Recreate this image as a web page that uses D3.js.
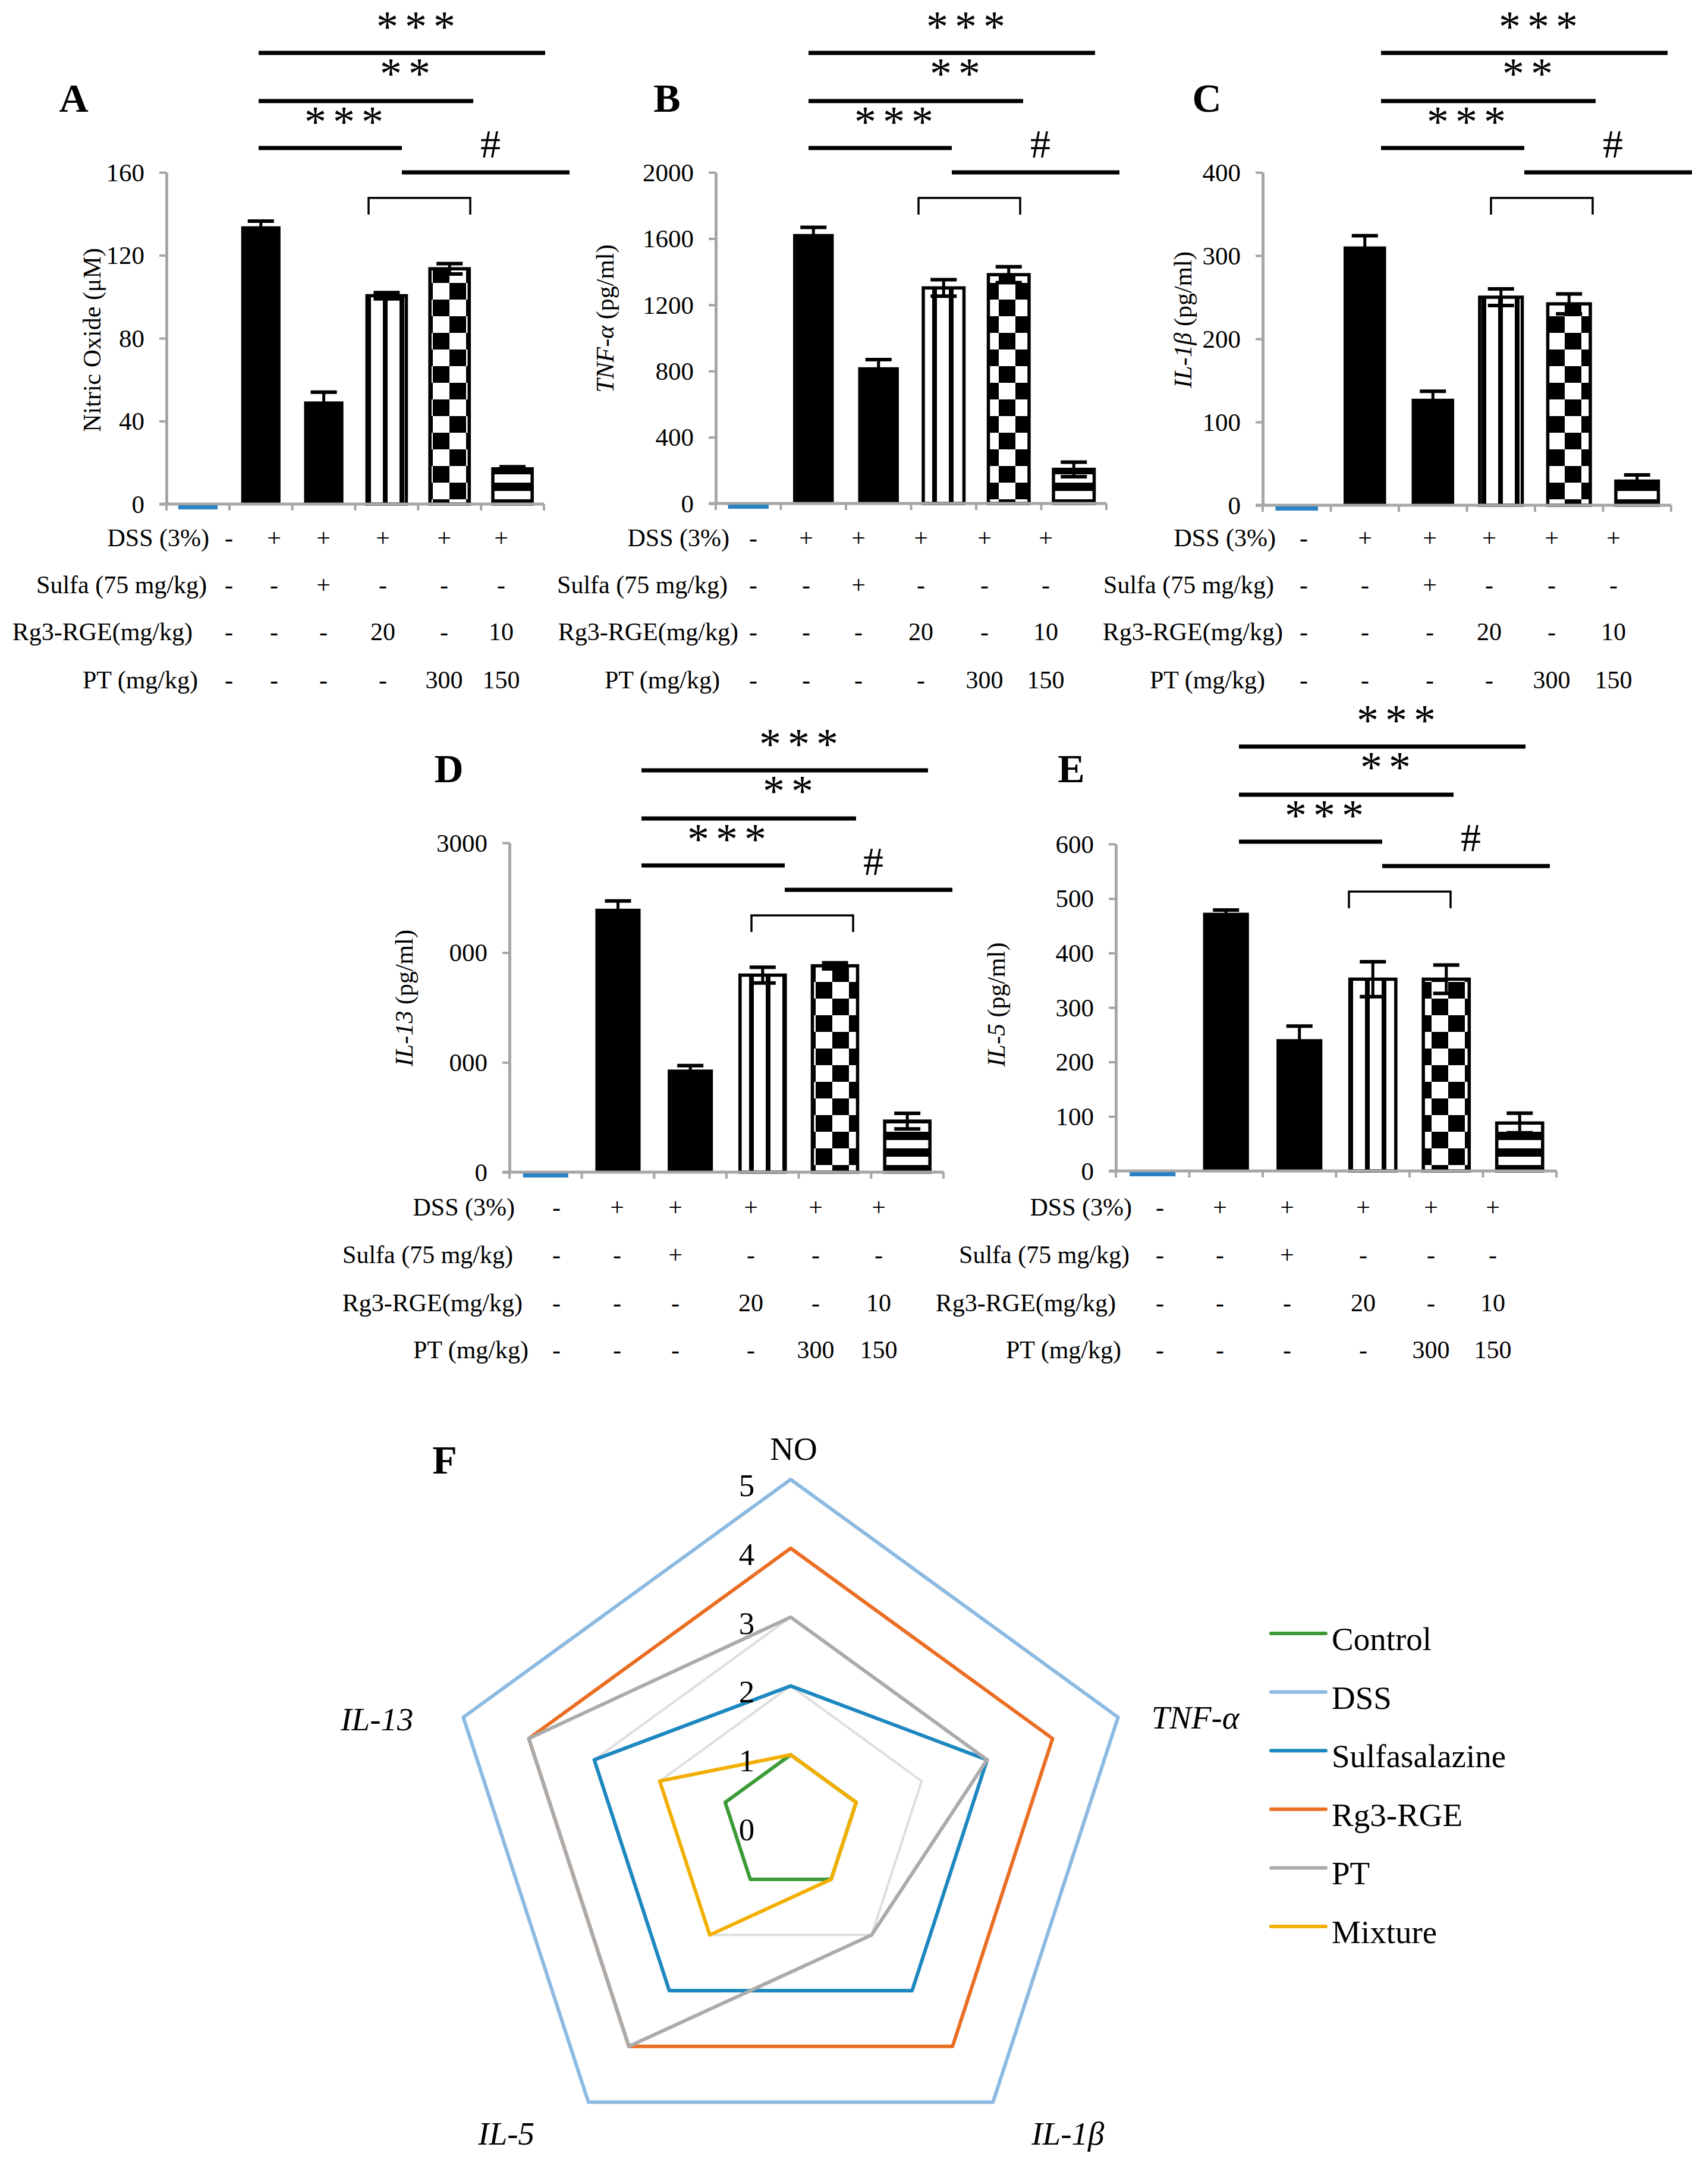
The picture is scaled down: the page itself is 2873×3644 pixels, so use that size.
<!DOCTYPE html>
<html><head><meta charset="utf-8">
<script src="https://cdn.jsdelivr.net/npm/d3@7"></script>
<style>
body{margin:0;background:#fff}
svg text{font-family:"Liberation Serif","Times New Roman",serif;fill:#000}
</style>
</head><body>
<svg id="c" width="2873" height="3644" xmlns="http://www.w3.org/2000/svg"></svg>
<script>
// ---------------- DATA ----------------
const groups = ["Control","DSS","Sulfa","Rg3-RGE","PT","Mixture"];

const noMean   = [0, 134, 49.5, 100.5, 113.5, 17];
const noErr    = [0, 2.5, 4.5, 1.5, 2.5, 1];
const tnfMean  = [0, 1628, 823, 1302, 1382, 206];
const tnfErr   = [0, 40, 46, 50, 48, 44];
const il1bMean = [0, 311, 128, 250, 242, 29];
const il1bErr  = [0, 13, 9, 10, 12, 7.5];
const il13Mean = [0, 2400, 935, 1795, 1880, 465];
const il13Err  = [0, 71, 36, 72, 28, 71];
const il5Mean  = [0, 474, 242, 352, 352, 88];
const il5Err   = [0, 5, 24, 32, 26, 18];

const noTicks   = [0, 40, 80, 120, 160];
const tnfTicks  = [0, 400, 800, 1200, 1600, 2000];
const il1bTicks = [0, 100, 200, 300, 400];
const il13Ticks = [0, 1000, 2000, 3000];
const il13TickLabels = ["0", "000", "000", "3000"];
const il5Ticks  = [0, 100, 200, 300, 400, 500, 600];

const rowLabels = ["DSS (3%)", "Sulfa (75 mg/kg)", "Rg3-RGE(mg/kg)", "PT (mg/kg)"];
const rowDSS   = ["-", "+", "+", "+", "+", "+"];
const rowSulfa = ["-", "-", "+", "-", "-", "-"];
const rowRg3   = ["-", "-", "-", "20", "-", "10"];
const rowPT    = ["-", "-", "-", "-", "300", "150"];

const sigTop = "***", sigMid = "**", sigLow = "***", sigHash = "#";

const radarAxes    = ["NO", "TNF-α", "IL-1β", "IL-5", "IL-13"];
const radarTicks   = [0, 1, 2, 3, 4, 5];
const radarSeries  = ["Control", "DSS", "Sulfasalazine", "Rg3-RGE", "PT", "Mixture"];
const radarControl = [1, 1, 1, 1, 1];
const radarDSS     = [5, 5, 5, 5, 5];
const radarSulfa   = [2, 3, 3, 3, 3];
const radarRg3     = [4, 4, 4, 4, 4];
const radarPT      = [3, 3, 2, 4, 4];
const radarMixture = [1, 1, 1, 2, 2];

// ---------------- STYLE / LAYOUT ----------------
const barFill = ["zero", "solid", "solid", "url(#vstripe)", "url(#checker)", "url(#hstripe)"];
const radarColors = ["#3c9a37", "#8dbae1", "#1d87c0", "#ea6e24", "#ababab", "#f2af00"];
const AXIS = "#a6a6a6";

const panels = [
  {letter:"A", mean:noMean, err:noErr, ticks:noTicks, tickLabels:null,
   ax:280, axEnd:915, y0:848, yTop:290, letterPos:[124,166],
   ylab:[["Nitric Oxide (μM)",false]], ylabPos:[155,572],
   sigL:435, sigT:89, labRight:[352,348,324,333],
   cols:[385,461,544,644,747,843], rowY:[905,984,1063,1144]},
  {letter:"B", mean:tnfMean, err:tnfErr, ticks:tnfTicks, tickLabels:null,
   ax:1204, axEnd:1861, y0:847, yTop:290, letterPos:[1122,166],
   ylab:[["TNF-α",true],[" (pg/ml)",false]], ylabPos:[1018,536],
   sigL:1360, sigT:89, labRight:[1227,1224,1242,1211],
   cols:[1267,1356,1444,1549,1656,1759], rowY:[905,984,1063,1144]},
  {letter:"C", mean:il1bMean, err:il1bErr, ticks:il1bTicks, tickLabels:null,
   ax:2124, axEnd:2811, y0:850, yTop:290, letterPos:[2030,166],
   ylab:[["IL-1β",true],[" (pg/ml)",false]], ylabPos:[1990,538],
   sigL:2323, sigT:89, labRight:[2146,2143,2158,2128],
   cols:[2193,2296,2405,2505,2610,2714], rowY:[905,984,1063,1144]},
  {letter:"D", mean:il13Mean, err:il13Err, ticks:il13Ticks, tickLabels:il13TickLabels,
   ax:857, axEnd:1587, y0:1972, yTop:1418, letterPos:[755,1294],
   ylab:[["IL-13",true],[" (pg/ml)",false]], ylabPos:[680,1679],
   sigL:1079, sigT:1296, labRight:[866,863,879,889],
   cols:[936,1038,1136,1263,1372,1478], rowY:[2031,2111,2192,2271]},
  {letter:"E", mean:il5Mean, err:il5Err, ticks:il5Ticks, tickLabels:null,
   ax:1877, axEnd:2618, y0:1970, yTop:1420, letterPos:[1802,1294],
   ylab:[["IL-5",true],[" (pg/ml)",false]], ylabPos:[1676,1690],
   sigL:2084, sigT:1256, labRight:[1904,1900,1877,1886],
   cols:[1951,2052,2165,2293,2407,2511], rowY:[2031,2111,2192,2271]}
];

const svg = d3.select("#c");
svg.append("rect").attr("width",2873).attr("height",3644).attr("fill","#fff");
const defs = svg.append("defs");

function makePattern(id, w, h, rects){
  const p = defs.append("pattern").attr("id", id).attr("patternUnits","userSpaceOnUse")
    .attr("width", w).attr("height", h);
  p.append("rect").attr("width", w).attr("height", h).attr("fill", "#fff");
  rects.forEach(r => p.append("rect").attr("x", r[0]).attr("y", r[1]).attr("width", r[2]).attr("height", r[3]).attr("fill", "#000"));
}
makePattern("vstripe", 28, 28, [[0,0,8,28]]);
makePattern("checker", 56, 56, [[0,0,28,28],[28,28,28,28]]);
makePattern("hstripe", 28, 28, [[0,0,28,14]]);

const rows = [rowDSS, rowSulfa, rowRg3, rowPT];

panels.forEach(p => {
  const g = svg.append("g");
  const x = d3.scaleBand().domain(groups).range([p.ax, p.axEnd]).paddingInner(0.375).paddingOuter(0.1875);
  const y = d3.scaleLinear().domain([0, p.ticks[p.ticks.length-1]]).range([p.y0, p.yTop]);
  const data = groups.map((k, i) => ({k, m: p.mean[i], e: p.err[i], f: barFill[i]}));

  // bars
  g.selectAll("rect.bar").data(data.filter(d => d.f !== "zero")).join("rect")
    .attr("class","bar")
    .attr("x", d => x(d.k)).attr("width", x.bandwidth())
    .attr("y", d => y(d.m)).attr("height", d => y(0) - y(d.m))
    .attr("fill", d => d.f === "solid" ? "#000" : d.f)
    .attr("stroke", d => d.f === "solid" ? "none" : "#000")
    .attr("stroke-width", 5.5);

  // error bars
  const eb = g.selectAll("g.eb").data(data.filter(d => d.e > 0)).join("g").attr("class","eb");
  eb.append("line")
    .attr("x1", d => x(d.k) + x.bandwidth()/2).attr("x2", d => x(d.k) + x.bandwidth()/2)
    .attr("y1", d => y(d.m - d.e)).attr("y2", d => y(d.m + d.e))
    .attr("stroke","#000").attr("stroke-width",5);
  [1,-1].forEach(s => {
    eb.append("line")
      .attr("x1", d => x(d.k) + x.bandwidth()/2 - 22).attr("x2", d => x(d.k) + x.bandwidth()/2 + 22)
      .attr("y1", d => y(d.m + s*d.e)).attr("y2", d => y(d.m + s*d.e))
      .attr("stroke","#000").attr("stroke-width",6);
  });

  // axes
  const yAxis = d3.axisLeft(y).tickValues(p.ticks).tickSize(12).tickSizeOuter(0).tickPadding(25)
    .tickFormat((d, i) => p.tickLabels ? p.tickLabels[i] : d3.format("d")(d));
  const ya = g.append("g").attr("transform", `translate(${p.ax},0)`).call(yAxis);
  ya.attr("font-family", "Liberation Serif");
  ya.select(".domain").attr("stroke", AXIS).attr("stroke-width", 5);
  ya.selectAll(".tick line").attr("stroke", AXIS).attr("stroke-width", 4);
  ya.selectAll(".tick text").attr("font-size", 43).attr("fill","#000").attr("dy","0.33em");

  g.append("line").attr("x1", p.ax - 12).attr("x2", p.axEnd).attr("y1", y(0)).attr("y2", y(0))
    .attr("stroke", AXIS).attr("stroke-width", 5);
  g.selectAll("line.xt").data(d3.range(groups.length + 1)).join("line").attr("class","xt")
    .attr("x1", i => p.ax + i * x.step()).attr("x2", i => p.ax + i * x.step())
    .attr("y1", y(0)).attr("y2", y(0) + 11).attr("stroke", AXIS).attr("stroke-width", 4);

  // zero-valued (control) bar drawn as a thin blue mark
  g.selectAll("rect.zero").data(data.filter(d => d.f === "zero")).join("rect").attr("class","zero")
    .attr("x", d => x(d.k)).attr("width", x.bandwidth())
    .attr("y", y(0) + 2).attr("height", 7).attr("fill", "#2b83c6");

  // panel letter
  g.append("text").attr("x", p.letterPos[0]).attr("y", p.letterPos[1] + 22)
    .attr("text-anchor","middle").attr("font-size",68).attr("font-weight","bold").text(p.letter);

  // y label
  const yl = g.append("text").attr("transform", `translate(${p.ylabPos[0] + 14},${p.ylabPos[1]}) rotate(-90)`)
    .attr("text-anchor","middle").attr("font-size",42);
  p.ylab.forEach(s => yl.append("tspan").attr("font-style", s[1] ? "italic" : "normal").text(s[0]));

  // significance annotations
  const L = p.sigL, T = p.sigT;
  const sl = [[L, L+482, T], [L, L+361, T+81], [L, L+241, T+160], [L+241, L+523, T+201]];
  g.selectAll("line.sig").data(sl).join("line").attr("class","sig")
    .attr("x1", d => d[0]).attr("x2", d => d[1]).attr("y1", d => d[2]).attr("y2", d => d[2])
    .attr("stroke","#000").attr("stroke-width",7);
  const st = [[sigTop, L+264, T-55], [sigMid, L+246, T+24], [sigLow, L+143, T+105]];
  g.selectAll("text.star").data(st).join("text").attr("class","star")
    .attr("x", d => d[1] + 6).attr("y", d => d[2] + 36)
    .attr("text-anchor","middle").attr("font-size",74).attr("letter-spacing",11).text(d => d[0]);
  g.append("text").attr("x", L+390).attr("y", T+153+23).attr("text-anchor","middle")
    .attr("font-size",68).text(sigHash);
  g.append("path").attr("d", `M${L+185},${T+272}V${T+244}H${L+356}V${T+272}`)
    .attr("fill","none").attr("stroke","#000").attr("stroke-width",3.5);

  // treatment table
  rowLabels.forEach((lab, r) => {
    g.append("text").attr("x", p.labRight[r]).attr("y", p.rowY[r] + 14)
      .attr("text-anchor","end").attr("font-size",42).text(lab);
    g.selectAll(null).data(rows[r]).join("text")
      .attr("x", (d, c) => p.cols[c]).attr("y", p.rowY[r] + 14)
      .attr("text-anchor","middle").attr("font-size",42).text(d => d);
  });
});

// ---------------- RADAR (F) ----------------
const cx = 1330, cy = 3068;
const rScale = d3.scaleLinear().domain([0, 5]).range([0, 579]);
const aScale = d3.scaleLinear().domain([0, radarAxes.length]).range([0, 2 * Math.PI]);
const radial = d3.lineRadial().angle((d, i) => aScale(i)).radius(d => rScale(d)).curve(d3.curveLinearClosed);
const rg = svg.append("g").attr("transform", `translate(${cx},${cy})`);

rg.selectAll("path.grid").data(radarTicks.slice(1)).join("path").attr("class","grid")
  .attr("d", t => radial(radarAxes.map(() => t)))
  .attr("fill","none").attr("stroke","#dedede").attr("stroke-width",4);

const seriesVals = [radarControl, radarDSS, radarSulfa, radarRg3, radarPT, radarMixture];
rg.selectAll("path.ser").data(seriesVals).join("path").attr("class","ser")
  .attr("d", d => radial(d)).attr("fill","none")
  .attr("stroke", (d, i) => radarColors[i]).attr("stroke-width", 6).attr("stroke-linejoin","round");

rg.selectAll("text.rt").data(radarTicks).join("text").attr("class","rt")
  .attr("x", -74).attr("y", t => -rScale(t) + 28)
  .attr("text-anchor","middle").attr("font-size",53).text(t => t);

const labOff = [[5,-33], [130,19], [126,72], [-138,72], [-145,22]];
const labItalic = [false, true, true, true, true];
rg.selectAll("text.ax").data(radarAxes).join("text").attr("class","ax")
  .attr("x", (d, i) => Math.sin(aScale(i)) * rScale(5) + labOff[i][0])
  .attr("y", (d, i) => -Math.cos(aScale(i)) * rScale(5) + labOff[i][1])
  .attr("text-anchor","middle").attr("font-size",55)
  .attr("font-style", (d, i) => labItalic[i] ? "italic" : "normal").text(d => d);

svg.append("text").attr("x", 748).attr("y", 2457 + 22).attr("text-anchor","middle")
  .attr("font-size",68).attr("font-weight","bold").text("F");

// legend
const lg = svg.append("g");
const legY = d3.scaleLinear().domain([0, radarSeries.length - 1]).range([2748, 3241]);
radarSeries.forEach((s, i) => {
  lg.append("line").attr("x1", 2138).attr("x2", 2230).attr("y1", legY(i)).attr("y2", legY(i))
    .attr("stroke", radarColors[i]).attr("stroke-width", 6).attr("stroke-linecap","round");
  lg.append("text").attr("x", 2240).attr("y", legY(i) + 28).attr("font-size", 55).text(s);
});
</script>
</body></html>
